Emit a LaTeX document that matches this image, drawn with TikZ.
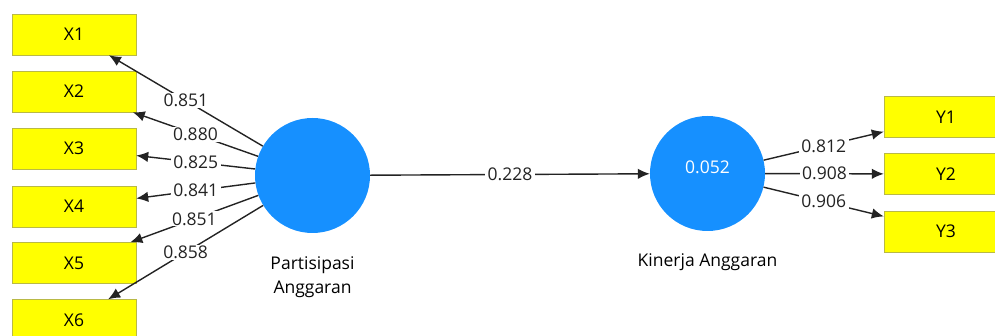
\documentclass[tikz,border=0pt]{standalone}
\usepackage{fontspec}
\setmainfont{Open Sans}
\usetikzlibrary{arrows.meta,arrows}
\definecolor{boxyellow}{RGB}{255,255,0}
\definecolor{boxedge}{RGB}{185,185,70}
\definecolor{latentblue}{RGB}{22,144,255}
\definecolor{linegray}{RGB}{35,35,35}

\begin{document}
\begin{tikzpicture}[x=1pt,y=-1pt,font=\fontsize{17.5}{21}\selectfont]

\clip (0,0) rectangle (995,336);

\tikzset{indicator/.style = {shape=rectangle,draw=boxedge,fill=boxyellow,minimum width=124pt,minimum height=41pt,inner sep=0pt}}
\tikzset{construct/.style = {shape=circle,fill=latentblue,minimum size=115pt,inner sep=0pt}}
\tikzset{edge/.style = {->,>={Latex[length=12pt,width=10.5pt]},draw=linegray,line width=1.4pt}}
\tikzset{weight/.style = {fill=white,inner xsep=2.5pt,inner ysep=1pt,pos=0.5,text=linegray}}

\node[construct] (p) at (312.5,175.5) {};
\node[construct] (k) at (707.5,173.5) {};
\node[text=white] (kv) at (707.5,167) {0.052};

\node[indicator] (x1) at (74,34.5) {X1};
\node[indicator] (x2) at (74,91.5) {X2};
\node[indicator] (x3) at (74,148.5) {X3};
\node[indicator] (x4) at (74,206.5) {X4};
\node[indicator] (x5) at (74,263) {X5};
\node[indicator] (x6) at (74,320) {X6};

\node[indicator] (y1) at (946,117) {Y1};
\node[indicator] (y2) at (946,174) {Y2};
\node[indicator] (y3) at (946,231.5) {Y3};

\node[align=center,font=\fontsize{17.5}{24}\selectfont] (pl) at (312.5,277) {Partisipasi\\Anggaran};
\node (kl) at (707.5,262) {Kinerja Anggaran};

\draw[edge] (p) to node[weight] {0.851} (x1);
\draw[edge] (p) to node[weight] {0.880} (x2);
\draw[edge] (p) to node[weight] {0.825} (x3);
\draw[edge] (p) to node[weight] {0.841} (x4);
\draw[edge] (p) to node[weight] {0.851} (x5);
\draw[edge] (p) to node[weight] {0.858} (x6);

\draw[edge] (p) to node[weight] {0.228} (k);

\draw[edge] (k) to node[weight] {0.812} (y1);
\draw[edge] (k) to node[weight] {0.908} (y2);
\draw[edge] (k) to node[weight] {0.906} (y3);

\end{tikzpicture}
\end{document}
